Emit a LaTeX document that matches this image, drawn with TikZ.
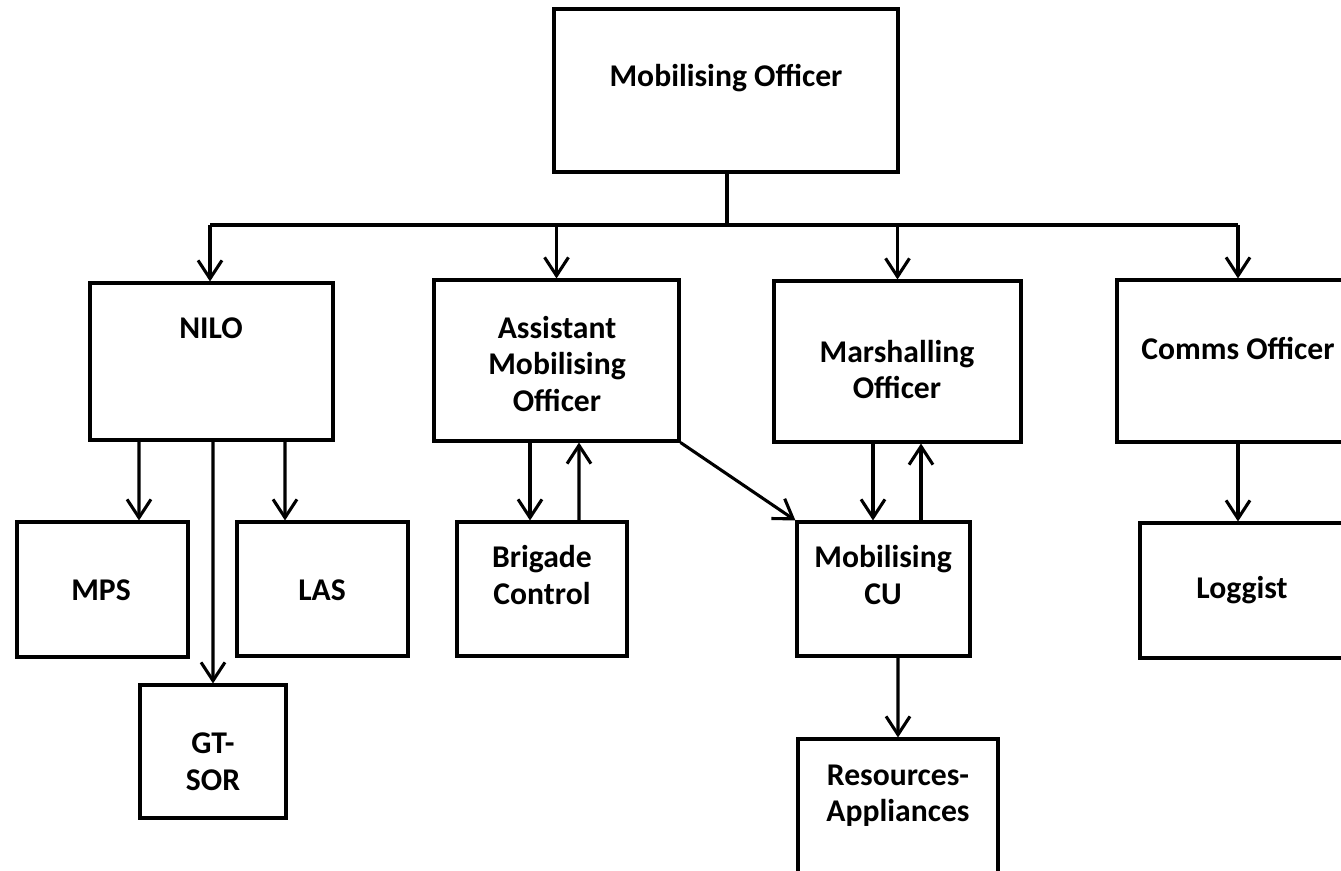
\documentclass[tikz,border=0pt]{standalone}
\usepackage{fontspec}
\setmainfont{Carlito}
\usetikzlibrary{arrows.meta}
\begin{document}
\begin{tikzpicture}[x=0.025cm,y=-0.025cm,
        box/.style 2 args={draw, line width=2.2pt, rectangle, inner sep=0pt,
            minimum width=#1*0.025cm, minimum height=#2*0.025cm},
        txt/.style={font=\fontsize{22.5}{26}\selectfont\bfseries, align=center, inner sep=0pt},
        arr/.style={line width=2.2pt, -{Straight Barb[length=13pt, width=17pt, line width=2.2pt]}},
        ln/.style={line width=2.2pt}]
        \clip (0,0) rectangle (1341,870);
        % boxes
        \node[box={344}{163}] (mo) at (726,90.5) {};
        \node[box={243}{157}] (nilo) at (211.5,361.5) {};
        \node[box={245}{161}] (amo) at (556.5,360.5) {};
        \node[box={247}{161}] (marsh) at (897.5,361.5) {};
        \node[box={242}{162}] (comms) at (1238,361) {};
        \node[box={171}{135}] (mps) at (102.5,589.5) {};
        \node[box={171}{134}] (las) at (322.5,589) {};
        \node[box={146}{133}] (gtsor) at (213,751.5) {};
        \node[box={170}{134}] (brig) at (542,589) {};
        \node[box={173}{134}] (cu) at (883.5,589) {};
        \node[box={205}{135}] (logg) at (1242.5,590.5) {};
        \node[box={200}{166}] (res) at (898,822) {};
        % texts
        \node[txt] (mo-t) at (726,78) {Mobilising Officer};
        \node[txt] (nilo-t) at (211,328) {NILO};
        \node[txt] (amo-t) at (557,364) {Assistant\\Mobilising\\Officer};
        \node[txt] (marsh-t) at (897,369.5) {Marshalling\\Officer};
        \node[txt] (comms-t) at (1238,348) {Comms Officer};
        \node[txt] (mps-t) at (101,590) {MPS};
        \node[txt] (las-t) at (322,590) {LAS};
        \node[txt] (gtsor-t) at (213,761.5) {GT-\\SOR};
        \node[txt] (brig-t) at (542,575) {Brigade\\Control};
        \node[txt] (cu-t) at (883,575) {Mobilising\\CU};
        \node[txt] (logg-t) at (1242,590) {Loggist};
        \node[txt] (res-t) at (898,795.5) {Resources-\\Appliances};
        % connectors
        \coordinate (bus) at (727,225);
        \draw[ln] ([xshift=1*0.025cm]mo.south) -- (bus);
        \draw[ln] ([xshift=-1.5*0.025cm]bus -| nilo) -- (bus -| comms);
        \draw[arr] ([xshift=-1.5*0.025cm]bus -| nilo) -- ([xshift=-1.5*0.025cm]nilo.north);
        \draw[arr] (bus -| amo) -- (amo.north);
        \draw[arr] (bus -| marsh) -- (marsh.north);
        \draw[arr] (bus -| comms) -- (comms.north);
        \draw[arr] ([xshift=-72.5*0.025cm]nilo.south) -- ([xshift=36.5*0.025cm]mps.north);
        \draw[arr] ([xshift=73.5*0.025cm]nilo.south) -- ([xshift=-37.5*0.025cm]las.north);
        \draw[arr] ([xshift=1.5*0.025cm]nilo.south) -- (gtsor.north);
        \draw[arr] ([xshift=-26.5*0.025cm]amo.south) -- ([xshift=-12*0.025cm]brig.north);
        \draw[arr] ([xshift=37*0.025cm]brig.north) -- ([xshift=22.5*0.025cm]amo.south);
        \draw[arr] (amo.south east) -- (cu.north west);
        \draw[arr] ([xshift=-24.5*0.025cm]marsh.south) -- ([xshift=-10.5*0.025cm]cu.north);
        \draw[arr] ([xshift=37.5*0.025cm]cu.north) -- ([xshift=23.5*0.025cm]marsh.south);
        \draw[arr] ([xshift=14.5*0.025cm]cu.south) -- (res.north);
        \draw[arr] (comms.south) -- ([xshift=-4.5*0.025cm]logg.north);
\end{tikzpicture}
\end{document}
